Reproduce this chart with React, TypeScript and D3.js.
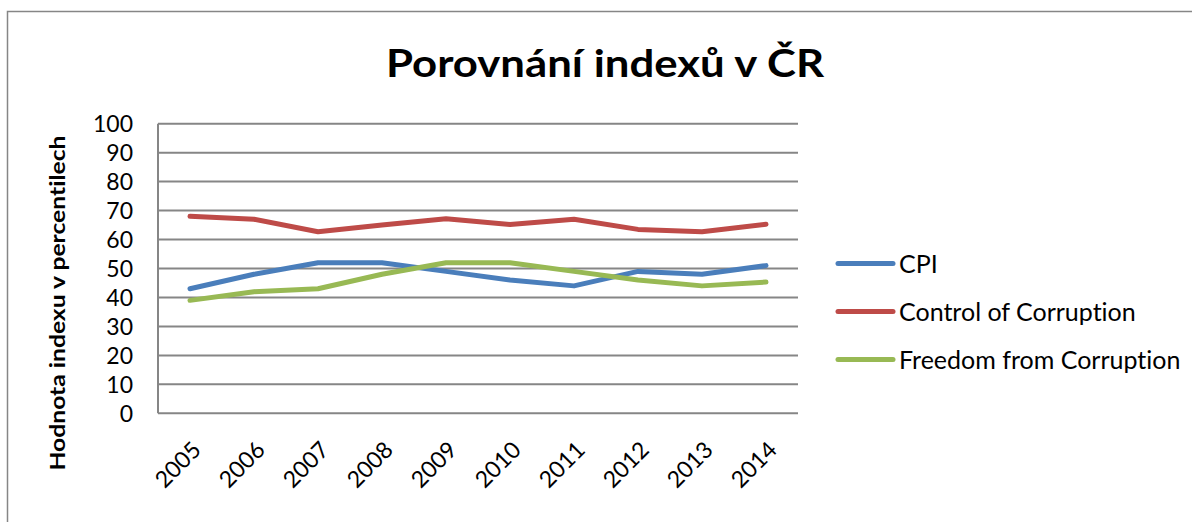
import React from 'react';
import * as d3 from 'd3';

const years = ['2005', '2006', '2007', '2008', '2009', '2010', '2011', '2012', '2013', '2014'];
const cpi = [43, 48, 52, 52, 49, 46, 44, 49, 48, 51];
const controlOfCorruption = [68, 67, 62.7, 65, 67.2, 65.2, 67, 63.5, 62.7, 65.3];
const freedomFromCorruption = [39, 42, 43, 48, 52, 52, 49, 46, 44, 45.3];
const yTicks = [0, 10, 20, 30, 40, 50, 60, 70, 80, 90, 100];

const seriesList = [
  { name: 'CPI', values: cpi, color: '#4A7EBB' },
  { name: 'Control of Corruption', values: controlOfCorruption, color: '#BE4B48' },
  { name: 'Freedom from Corruption', values: freedomFromCorruption, color: '#98B954' },
];

const W = 1192;
const H = 522;
const plot = { left: 158, right: 798, top: 123.7, bottom: 413.3 };
const font = 'Lato, "Open Sans", sans-serif';
const noLig = { fontVariantLigatures: 'none' } as React.CSSProperties;

const App: React.FC = () => {
  const x = d3.scaleBand<string>().domain(years).range([plot.left, plot.right]);
  const y = d3.scaleLinear().domain([0, 100]).range([plot.bottom, plot.top]);

  const line = d3.line<number>()
    .x((_, i) => (x(years[i]) ?? 0) + x.bandwidth() / 2)
    .y(d => y(d));

  return (
    <svg width={W} height={H} style={{ position: 'absolute', left: 0, top: 0 }}>
      <rect x={0} y={0} width={W} height={H} fill="#fff" />
      {/* chart border (right/bottom fall outside the picture) */}
      <path d={`M7.5,${H + 5} L7.5,11.5 L${W + 5},11.5`} fill="none" stroke="#868686" strokeWidth={1.5} />

      <text x={605} y={77} textAnchor="middle" fontFamily={font} fontWeight={700} fontSize={38}
        textLength={438} lengthAdjust="spacingAndGlyphs" style={noLig}>
        Porovnání indexů v ČR
      </text>

      {/* grid */}
      {yTicks.map(t => (
        <line key={t} x1={plot.left} x2={plot.right} y1={y(t)} y2={y(t)} stroke="#868686" strokeWidth={2} />
      ))}
      <line x1={plot.left} x2={plot.left} y1={plot.top} y2={plot.bottom} stroke="#868686" strokeWidth={2} />

      {/* y tick labels */}
      {yTicks.map(t => (
        <text key={t} x={133} y={y(t)} dy="0.36em" textAnchor="end" fontFamily={font} fontSize={23} fill="#000">
          {t}
        </text>
      ))}

      <text transform={`translate(65,303) rotate(-90)`} textAnchor="middle" fontFamily={font}
        fontWeight={700} fontSize={21} textLength={335} lengthAdjust="spacingAndGlyphs" style={noLig}>
        Hodnota indexu v percentilech
      </text>

      {/* x tick labels */}
      {years.map(yr => {
        const cx = (x(yr) ?? 0) + x.bandwidth() / 2;
        return (
          <text key={yr} transform={`translate(${cx + 1},${440}) rotate(-45)`} textAnchor="end"
            dy="0.7em" fontFamily={font} fontSize={23} fill="#000">
            {yr}
          </text>
        );
      })}

      {/* series */}
      {seriesList.map(s => (
        <path key={s.name} d={line(s.values) ?? ''} fill="none" stroke={s.color} strokeWidth={5}
          strokeLinejoin="round" strokeLinecap="round" />
      ))}

      {/* legend */}
      {seriesList.map((s, i) => {
        const ly = 263.5 + i * 48;
        return (
          <g key={s.name}>
            <line x1={838} x2={893} y1={ly} y2={ly} stroke={s.color} strokeWidth={5} strokeLinecap="round" />
            <text x={899} y={ly} dy="0.36em" fontFamily={font} fontSize={25} fill="#000" style={noLig}>{s.name}</text>
          </g>
        );
      })}
    </svg>
  );
};

export default App;
